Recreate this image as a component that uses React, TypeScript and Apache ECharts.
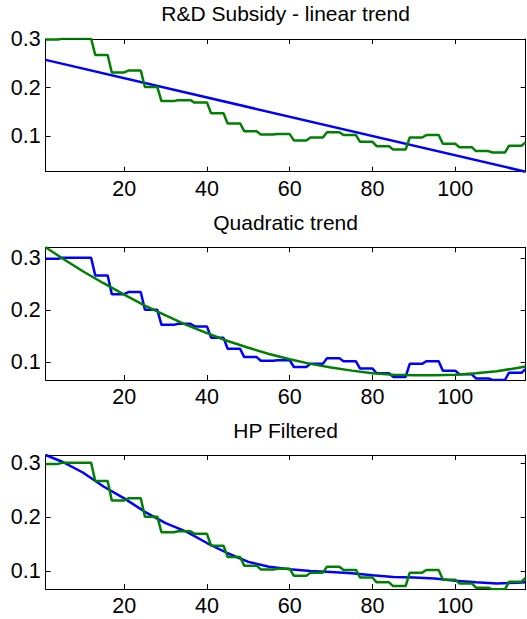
import React, { useEffect, useRef } from "react";
import * as echarts from "echarts";

// R&D subsidy series (periods 1..117)
const subsidy = [
  0.299, 0.299, 0.299, 0.299,
  0.301, 0.301, 0.301, 0.301, 0.301, 0.301, 0.301, 0.301,
  0.267, 0.267, 0.267, 0.267,
  0.231, 0.231, 0.231, 0.231,
  0.235, 0.235, 0.235, 0.235,
  0.201, 0.201, 0.201, 0.201,
  0.172, 0.172, 0.172, 0.172,
  0.174, 0.174, 0.174, 0.174,
  0.169, 0.169, 0.169, 0.169,
  0.147, 0.147, 0.147, 0.147,
  0.126, 0.126, 0.126, 0.126,
  0.110, 0.110, 0.110, 0.110,
  0.103, 0.103, 0.103, 0.103,
  0.104, 0.104, 0.104, 0.104,
  0.091, 0.091, 0.091, 0.091,
  0.097, 0.097, 0.097, 0.097,
  0.108, 0.108, 0.108, 0.108,
  0.102, 0.102, 0.102, 0.102,
  0.088, 0.088, 0.088, 0.088,
  0.079, 0.079, 0.079, 0.079,
  0.072, 0.072, 0.072, 0.072,
  0.097, 0.097, 0.097, 0.097,
  0.102, 0.102, 0.102, 0.102,
  0.084, 0.084, 0.084, 0.084,
  0.077, 0.077, 0.077, 0.077,
  0.069, 0.069, 0.069, 0.069,
  0.066, 0.066, 0.066, 0.066,
  0.080, 0.080, 0.080, 0.080,
  0.087,
];

// linear trend
const linearX = [1, 117];
const linearY = [0.257, 0.0265];

// quadratic trend
const quadX = [1, 5, 10, 15, 20, 25, 30, 35, 40, 45, 50, 55, 60, 65, 70, 75, 80, 85, 90, 95, 100, 105, 110, 115, 117];
const quadY = [0.321, 0.300, 0.275, 0.252, 0.230, 0.209, 0.190, 0.172, 0.156, 0.141, 0.128, 0.116, 0.106, 0.097, 0.090, 0.084, 0.079, 0.076, 0.075, 0.075, 0.076, 0.079, 0.083, 0.089, 0.092];

// HP filtered trend
const hpX = [1, 5, 10, 15, 20, 25, 30, 35, 40, 45, 50, 55, 60, 65, 70, 75, 80, 85, 90, 95, 100, 105, 110, 115, 117];
const hpY = [0.3155, 0.303, 0.283, 0.257, 0.235, 0.210, 0.189, 0.173, 0.152, 0.133, 0.117, 0.108, 0.1035, 0.100, 0.098, 0.096, 0.092, 0.089, 0.088, 0.086, 0.082, 0.079, 0.077, 0.078, 0.079];

const titles = ["R&D Subsidy - linear trend", "Quadratic trend", "HP Filtered"];
const xTicks = [20, 40, 60, 80, 100];
const yTicks = [0.1, 0.2, 0.3];
const yMins = [0.0265, 0.066, 0.0666];
const yMaxs = [0.3, 0.321, 0.3155];

const BLUE = "#0000ff";
const GREEN = "#008000";
const FONT = "Liberation Sans, Arial, Helvetica, sans-serif";

const GRID_LEFT = 45.6;
const GRID_W = 480;
const gridTops = [39, 247.3, 455];
const gridHeights = [132.7, 132.7, 134];
const titleYs = [13.7, 222.5, 430.3];

function pairs(xs: number[], ys: number[]) {
  return xs.map((x, i) => [x, ys[i]]);
}

export default function App() {
  const ref = useRef<HTMLDivElement>(null);
  useEffect(() => {
    if (!ref.current) return;
    const chart = echarts.init(ref.current, undefined, { renderer: "svg" });
    const subsidyData = subsidy.map((v, i) => [i + 1, v]);
    const lineStyleAxis = { color: "#000", width: 1 };

    const grids = gridTops.map((t, i) => ({
      left: GRID_LEFT,
      top: t,
      width: GRID_W,
      height: gridHeights[i],
      containLabel: false,
    }));

    const xAxes: any[] = [];
    const yAxes: any[] = [];
    for (const pos of ["bottom", "top"]) {
      for (let i = 0; i < 3; i++) {
        xAxes.push({
          type: "value",
          gridIndex: i,
          position: pos,
          min: 1,
          max: 117,
          axisLine: { show: true, onZero: false, lineStyle: lineStyleAxis },
          axisTick: { show: true, inside: true, length: 5, customValues: xTicks, lineStyle: lineStyleAxis },
          axisLabel: {
            show: pos === "bottom",
            customValues: xTicks,
            margin: 6,
            fontSize: 21.5,
            color: "#000",
            fontFamily: FONT,
          },
          splitLine: { show: false },
        });
      }
    }
    for (const pos of ["left", "right"]) {
      for (let i = 0; i < 3; i++) {
        yAxes.push({
          type: "value",
          gridIndex: i,
          position: pos,
          min: yMins[i],
          max: yMaxs[i],
          axisLine: { show: true, onZero: false, lineStyle: lineStyleAxis },
          axisTick: { show: true, inside: true, length: 5, customValues: yTicks, lineStyle: lineStyleAxis },
          axisLabel: {
            show: pos === "left",
            customValues: yTicks,
            formatter: (v: number) => v.toFixed(1),
            margin: 5,
            fontSize: 21.5,
            color: "#000",
            fontFamily: FONT,
          },
          splitLine: { show: false },
        });
      }
    }

    const mk = (name: string, idx: number, data: any[], color: string) => ({
      name,
      type: "line",
      xAxisIndex: idx,
      yAxisIndex: idx,
      data,
      showSymbol: false,
      symbol: "none",
      lineStyle: { color, width: 2.5 },
      itemStyle: { color },
      clip: true,
    });

    const option: any = {
      animation: false,
      backgroundColor: "#fff",
      grid: grids,
      xAxis: xAxes,
      yAxis: yAxes,
      graphic: titles.map((t, i) => ({
        type: "text",
        x: GRID_LEFT + GRID_W / 2,
        y: titleYs[i],
        style: {
          text: t,
          fontSize: 21,
          fontFamily: FONT,
          fill: "#000",
          textAlign: "center",
          textVerticalAlign: "middle",
        },
      })),
      series: [
        mk("Linear trend", 0, pairs(linearX, linearY), BLUE),
        mk("R&D subsidy", 0, subsidyData, GREEN),
        mk("R&D subsidy", 1, subsidyData, BLUE),
        mk("Quadratic trend", 1, pairs(quadX, quadY), GREEN),
        mk("HP trend", 2, pairs(hpX, hpY), BLUE),
        mk("R&D subsidy", 2, subsidyData, GREEN),
      ],
    };
    chart.setOption(option);
    return () => chart.dispose();
  }, []);
  return (
    <div
      ref={ref}
      style={{ position: "absolute", left: 0, top: 0, width: 527, height: 619, background: "#fff" }}
    />
  );
}
